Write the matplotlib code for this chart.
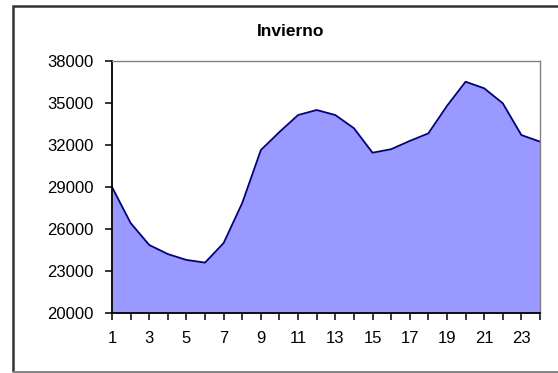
import matplotlib
matplotlib.use("Agg")
import matplotlib.pyplot as plt
from matplotlib.patches import Rectangle

# Hourly winter demand profile
hours = list(range(1, 25))
demand = [29000, 26430, 24860, 24210, 23790, 23600, 25000, 27860,
          31640, 32930, 34140, 34500, 34140, 33200, 31450, 31700,
          32290, 32830, 34790, 36520, 36050, 34980, 32710, 32240]
y_ticks = [20000, 23000, 26000, 29000, 32000, 35000, 38000]
x_labels = [str(h) if h % 2 == 1 else "" for h in hours]
title = "Invierno"

plt.rcParams["font.family"] = ["Liberation Sans", "DejaVu Sans"]

fig = plt.figure(figsize=(5.58, 3.73), dpi=100)
W, H = 558, 373

# outer chart frame (right edge runs past the image)
fig.patches.append(Rectangle((12.5 / W, 1.5 / H), 1.2, 1 - 7 / H,
                             transform=fig.transFigure, fill=False,
                             edgecolor="#333333", linewidth=1.8))
fig.patches.append(Rectangle((12.5 / W, 1.5 / H), 1.2, 0.0,
                             transform=fig.transFigure, fill=False,
                             edgecolor="#888888", linewidth=1.8))

ax = fig.add_axes([112 / W, 1 - 313 / H, 428 / W, 252 / H])
ax.fill_between(hours, demand, y_ticks[0], color="#9999FF", linewidth=0)
ax.plot(hours, demand, color="#000080", linewidth=1.3)

ax.set_xlim(hours[0], hours[-1])
ax.set_ylim(y_ticks[0], y_ticks[-1])
ax.set_xticks(hours)
ax.set_xticklabels(x_labels)
ax.set_yticks(y_ticks)

ax.tick_params(axis="both", direction="out", length=5, width=1.1,
               colors="black", labelsize=12)
ax.tick_params(axis="y", pad=8)
ax.tick_params(axis="x", pad=8)

for side in ("left", "bottom"):
    ax.spines[side].set_color("black")
    ax.spines[side].set_linewidth(1.3)
for side in ("top", "right"):
    ax.spines[side].set_color("#808080")
    ax.spines[side].set_linewidth(1.0)

fig.text(291 / W, 1 - 32 / H, title, ha="center", va="center",
         fontsize=12.5, fontweight="bold")

fig.savefig("out.png", dpi=100)
